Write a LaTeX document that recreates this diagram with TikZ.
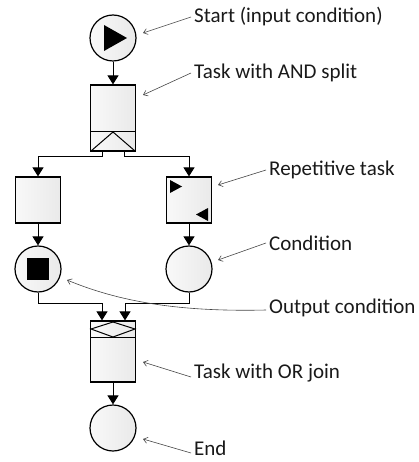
\documentclass[tikz,border=0pt]{standalone}
\usepackage{fontspec}
\setmainfont{Carlito}
\usetikzlibrary{arrows.meta,calc}
\begin{document}
\begin{tikzpicture}[x=1pt,y=-1pt,
  shp/.style={draw=black, line width=1.2pt, left color=gray!5, right color=gray!17, inner sep=0pt},
  cond/.style={shp, circle, minimum size=46pt},
  taskbox/.style={shp, rectangle, minimum width=45pt, minimum height=46pt},
  flow/.style={line width=1pt, -{Triangle[width=11pt,length=9pt]}},
  lbl/.style={anchor=west, inner sep=0pt, font=\fontsize{21}{24}\selectfont, text=black!90},
  note/.style={gray!55!black, line width=0.6pt, -{Straight Barb[length=4pt,width=6pt]}}
]
\useasboundingbox (0,0) rectangle (419,462);

% shapes
\node[cond] (start) at (113,38) {};
\node[taskbox, minimum height=66pt] (andtask) at (113,118) {};
\node[taskbox] (lefttask) at (38,200) {};
\node[taskbox] (righttask) at (189,200) {};
\node[cond] (leftcond) at (38,269) {};
\node[cond] (rightcond) at (189,269) {};
\node[taskbox, minimum height=61pt] (ortask) at (113,351.5) {};
\node[cond] (endc) at (113,428) {};

% decorations
\fill (104,25) -- (127,38) -- (104,51) -- cycle;
\draw[line width=1pt] (91,132) -- (135,132);
\draw[line width=1pt] (91,151) -- (113,132) -- (135,151);
\draw[line width=1pt] (91,337) -- (135,337);
\draw[line width=1pt] (91,329) -- (113,322) -- (135,329) -- (113,337) -- cycle;
\fill (27,258) rectangle (49,280);
\fill (170,180) -- (182,186.5) -- (170,193) -- cycle;
\fill (208,208) -- (196,214.5) -- (208,221) -- cycle;

% flows
\draw[flow] (start) -- (andtask);
\draw[flow] ([xshift=-11pt]andtask.south) -- ++(0,5) -| (lefttask.north);
\draw[flow] ([xshift=11pt]andtask.south) -- ++(0,5) -| (righttask.north);
\draw[flow] (lefttask) -- (leftcond);
\draw[flow] (righttask) -- (rightcond);
\draw[flow] (leftcond.south) -- ++(0,11) -| ([xshift=-11pt]ortask.north);
\draw[flow] (rightcond.south) -- ++(0,11) -| ([xshift=12pt]ortask.north);
\draw[flow] (ortask) -- (endc);

% labels
\node[lbl] (l1) at (194,17) {Start (input condition)};
\node[lbl] (l2) at (194,73) {Task with AND split};
\node[lbl] (l3) at (269,170) {Repetitive task};
\node[lbl] (l4) at (269,243) {Condition};
\node[lbl] (l5) at (269,308) {Output condition};
\node[lbl] (l6) at (194,373) {Task with OR join};
\node[lbl] (l7) at (194,448) {End};

\coordinate (t1) at (143,33);
\coordinate (t2) at (143,95);
\coordinate (t3) at (218,185);
\coordinate (t4) at (218,260);
\coordinate (t5) at (67,280);
\coordinate (t6) at (143,362);
\coordinate (t7) at (143,439);

\draw[note] ([xshift=-3pt]l1.west) -- (t1);
\draw[note] ([xshift=-3pt]l2.west) -- (t2);
\draw[note] ([xshift=-3pt]l3.west) -- (t3);
\draw[note] ([xshift=-3pt]l4.west) -- (t4);
\draw[note] ([xshift=-3pt,yshift=-2pt]l5.west) .. controls (180,312) and (120,302) .. (t5);
\draw[note] ([xshift=-3pt,yshift=-4pt]l6.west) -- (t6);
\draw[note] ([xshift=-3pt,yshift=-5pt]l7.west) -- (t7);
\end{tikzpicture}
\end{document}
